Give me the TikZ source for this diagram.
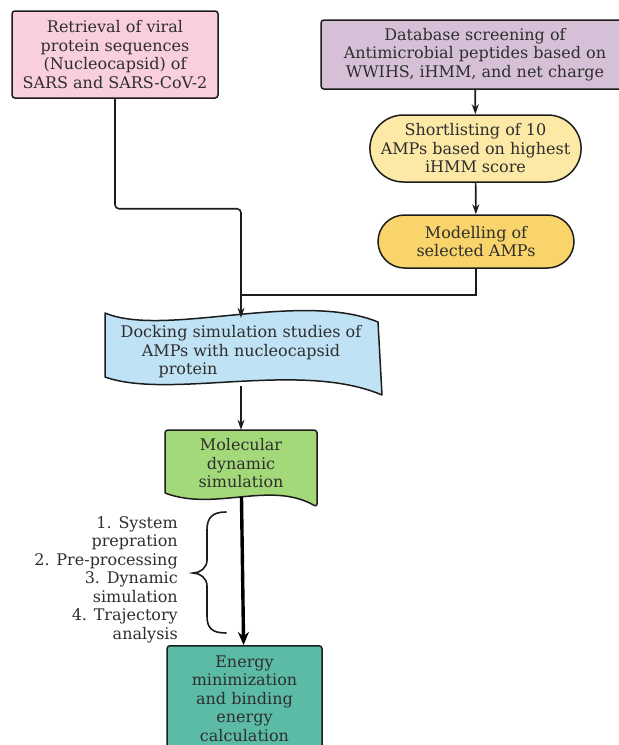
\documentclass[tikz,border=0pt]{standalone}
\usepackage{fontspec}
\setmainfont{DejaVu Serif}
\usepackage{tikz}
\usetikzlibrary{arrows.meta, positioning, shapes.misc}
\definecolor{pinkfill}{HTML}{F9CFDB}
\definecolor{purplefill}{HTML}{D6C0D8}
\definecolor{paleyellow}{HTML}{FCE9A6}
\definecolor{goldfill}{HTML}{F8D46A}
\definecolor{bluefill}{HTML}{BFE2F4}
\definecolor{greenfill}{HTML}{A4D97A}
\definecolor{tealfill}{HTML}{5CBBA6}
\definecolor{textgray}{HTML}{2E2E2E}
\definecolor{edge}{HTML}{1C1C1C}
\newcommand{\flowfont}{\fontsize{16}{18.5}\selectfont}
\tikzset{
    box/.style={rectangle, rounded corners=3pt, draw=edge, line width=1.5pt, align=center, text=textgray, font=\flowfont, inner sep=0pt},
    pinkbox/.style={box, fill=pinkfill, minimum width=206pt, minimum height=87pt},
    purplebox/.style={box, fill=purplefill, minimum width=308pt, minimum height=69pt},
    stadium/.style={rounded rectangle, draw=edge, line width=1.5pt, align=center, text=textgray, font=\flowfont, inner sep=0pt},
    tealbox/.style={box, fill=tealfill, minimum width=155pt, minimum height=124pt},
    textonly/.style={align=center, text=textgray, font=\flowfont, inner sep=0pt},
    shapeline/.style={draw=edge, line width=1.5pt, line join=round},
    line/.style={draw=edge, line width=1.6pt},
    arrow/.style={line, -{Stealth[length=10pt,width=7pt]}},
    thickarrow/.style={draw=black, line width=3.4pt, -{Stealth[length=13pt,width=11pt]}}
}
\begin{document}
\begin{tikzpicture}[x=1pt, y=-1pt]
        \useasboundingbox (0,0) rectangle (619,745);
        % Shapes
        \draw [shapeline, fill=bluefill] (105,313) .. controls (165,338) and (300,290) .. (378,322)
            -- (382,395) .. controls (300,360) and (170,400) .. (105,377) -- cycle;
        \draw [shapeline, fill=greenfill, rounded corners=3pt] (165,493) -- (165,430) -- (317,430) -- (317,507)
            .. controls (270,480) and (215,512) .. (165,493);
        \draw [line, line cap=round] (226,512) .. controls (212,512) and (207,518) .. (207,530) -- (207,560)
            .. controls (207,568) and (200,573) .. (193,573) .. controls (200,573) and (207,578) .. (207,586)
            -- (207,616) .. controls (207,628) and (212,633) .. (226,633);

        % Nodes
        \node (retrieval) [pinkbox] at (115,54.5) {Retrieval of viral\\protein sequences\\(Nucleocapsid) of\\SARS and SARS-CoV-2};
        \node (screening) [purplebox] at (475,54.5) {Database screening of\\Antimicrobial peptides based on\\WWIHS, iHMM, and net charge};
        \node (shortlist) [stadium, fill=paleyellow, minimum width=207pt, minimum height=67pt] at (475.5,148.5) {Shortlisting of 10\\AMPs based on highest\\iHMM score};
        \node (modelling) [stadium, fill=goldfill, minimum width=196pt, minimum height=53pt] at (476,241.5) {Modelling of\\selected AMPs};
        \node (docking) [textonly, minimum width=273pt, minimum height=68pt] at (241,352) {Docking simulation studies of\\AMPs with nucleocapsid\\protein\hspace*{106pt}};
        \node (molecular) [textonly, minimum width=152pt, minimum height=67pt] at (241,463.5) {Molecular\\dynamic\\simulation};
        \node (steps) [textonly, align=right, anchor=east] at (178,579.5) {1. System\\prepration\\2. Pre-processing\\3. Dynamic\\simulation\\4. Trajectory\\analysis};
        \node (energy) [tealbox, anchor=north] at (244.5,645) {Energy\\minimization\\and binding\\energy\\calculation\\ \mbox{}};
        \coordinate (merge) at (241,295);

        % Connections
        \draw [arrow] (screening) -- (shortlist);
        \draw [arrow] (shortlist) -- (modelling);
        \draw [line] (modelling.south) |- (merge);
        \draw [arrow, rounded corners=4pt] (retrieval.south) -- ++(0,110) -| (docking.north);
        \draw [arrow] (docking) -- (molecular);
        \draw [thickarrow] (molecular) -- (energy);
    \end{tikzpicture}
\end{document}
